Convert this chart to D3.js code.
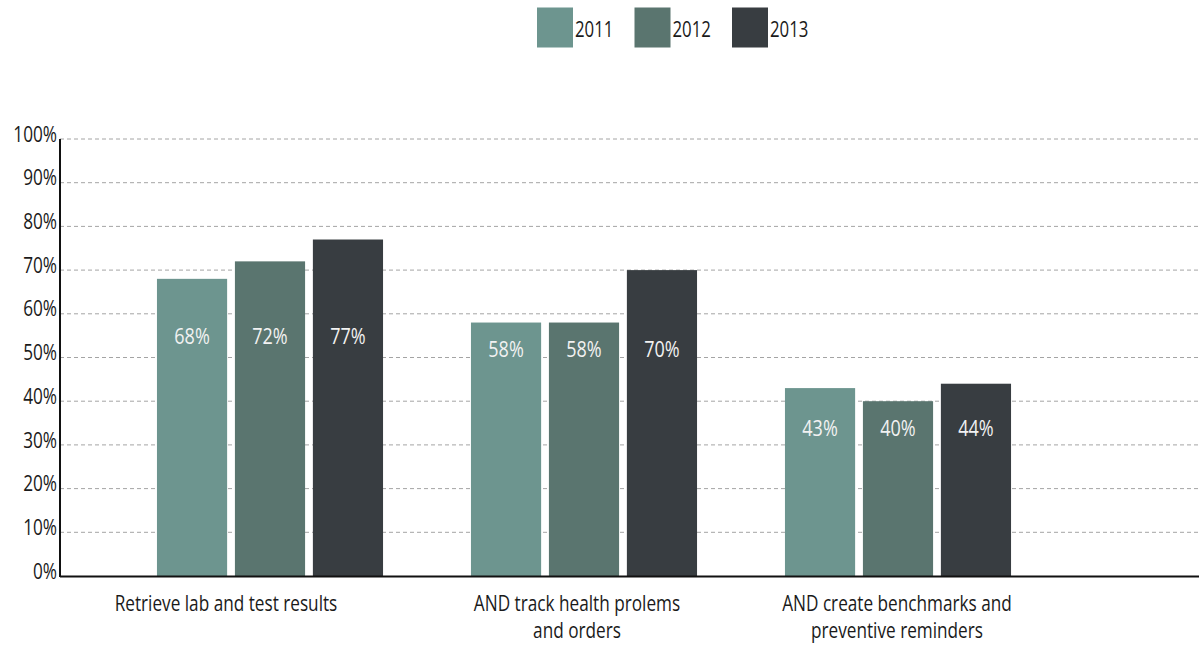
<!DOCTYPE html>
<html>
<head>
<meta charset="utf-8">
<script src="https://cdn.jsdelivr.net/npm/d3@7/dist/d3.min.js"></script>
<style>
  html, body { margin: 0; padding: 0; background: #ffffff; }
  svg { display: block; font-family: "Open Sans", "Noto Sans", sans-serif; }
</style>
</head>
<body>
<svg id="chart"></svg>
<script>
// ---- data ----
const categories = [
  "Retrieve lab and test results",
  "AND track health prolems and orders",
  "AND create benchmarks and preventive reminders"
];
const categoryLines = [
  ["Retrieve lab and test results"],
  ["AND track health prolems", "and orders"],
  ["AND create benchmarks and", "preventive reminders"]
];
const years = ["2011", "2012", "2013"];
const values2011 = [68, 58, 43];
const values2012 = [72, 58, 40];
const values2013 = [77, 70, 44];
const yTicks = [0, 10, 20, 30, 40, 50, 60, 70, 80, 90, 100];

const seriesValues = { "2011": values2011, "2012": values2012, "2013": values2013 };
const colors = { "2011": "#6d958f", "2012": "#5a756f", "2013": "#383d41" };

// ---- layout ----
const W = 1199, H = 647;
const SX = 0.8;                 // horizontal squeeze gives the narrow lettering
const u = px => px / SX;        // screen px -> inner units (x only)

const svg = d3.select("#chart").attr("width", W).attr("height", H);
const g = svg.append("g").attr("transform", `scale(${SX},1)`);

const axisX = 60, axisRight = 1199;
const y = d3.scaleLinear().domain([0, 100]).range([576, 139]);

const x0 = d3.scaleBand().domain(categories)
  .range([u(113), u(1055)]).paddingInner(0.28).paddingOuter(0.14);
const x1 = d3.scaleBand().domain(years)
  .range([0, x0.bandwidth()]).paddingInner(0.1);

// value labels sit at a common height inside each group (axis units)
const labelLevels = [53, 50, 32];
// category labels are shifted from the group centre
const labelShift = [-44, -7, -1];

// ---- gridlines ----
g.append("g").selectAll("line")
  .data(yTicks.filter(t => t > 0))
  .join("line")
  .attr("x1", u(axisX)).attr("x2", u(axisRight))
  .attr("y1", d => y(d)).attr("y2", d => y(d))
  .attr("stroke", "#9a9a9a").attr("stroke-width", 1)
  .attr("stroke-dasharray", `${u(4)} ${u(3)}`);

// ---- bars ----
const groups = g.append("g").selectAll("g")
  .data(categories)
  .join("g")
  .attr("transform", d => `translate(${x0(d)},0)`);

groups.selectAll("rect")
  .data((c, i) => years.map(yr => ({ yr, v: seriesValues[yr][i] })))
  .join("rect")
  .attr("x", d => x1(d.yr))
  .attr("width", x1.bandwidth())
  .attr("y", d => y(d.v))
  .attr("height", d => y(0) - y(d.v))
  .attr("fill", d => colors[d.yr]);

groups.selectAll("text")
  .data((c, i) => years.map(yr => ({ yr, v: seriesValues[yr][i], lvl: labelLevels[i] })))
  .join("text")
  .attr("x", d => x1(d.yr) + x1.bandwidth() / 2)
  .attr("y", d => y(d.lvl))
  .attr("text-anchor", "middle")
  .attr("font-size", 22.5)
  .attr("fill", "#f2f2f2")
  .text(d => d.v + "%");

// ---- y axis ----
const yAxis = d3.axisLeft(y).tickValues(yTicks)
  .tickFormat(d => d + "%").tickSize(0).tickPadding(u(3));
const yg = g.append("g").attr("transform", `translate(${u(axisX)},0)`).call(yAxis);
yg.select(".domain").remove();
yg.selectAll("text")
  .attr("font-size", 21.5)
  .attr("font-family", "'Open Sans', 'Noto Sans', sans-serif")
  .attr("fill", "#1a1a1a")
  .attr("dy", "0.1em");

g.append("line")
  .attr("x1", u(axisX)).attr("x2", u(axisX))
  .attr("y1", y(100)).attr("y2", y(0) + 1)
  .attr("stroke", "#111").attr("stroke-width", u(2));

g.append("line")
  .attr("x1", u(axisX)).attr("x2", u(axisRight))
  .attr("y1", y(0) + 0.5).attr("y2", y(0) + 0.5)
  .attr("stroke", "#111").attr("stroke-width", 2.2);

// ---- category labels ----
const catLabels = g.append("g").selectAll("text")
  .data(categories)
  .join("text")
  .attr("x", (d, i) => x0(d) + x0.bandwidth() / 2 + u(labelShift[i]))
  .attr("y", 611)
  .attr("text-anchor", "middle")
  .attr("font-size", 21.5)
  .attr("fill", "#1a1a1a");
catLabels.selectAll("tspan")
  .data((d, i) => categoryLines[i])
  .join("tspan")
  .attr("x", function () { return this.parentNode.getAttribute("x"); })
  .attr("dy", (d, j) => j === 0 ? 0 : 27)
  .text(d => d);

// ---- legend ----
const lx = d3.scaleBand().domain(years).range([u(537), u(537 + 3 * 97.5)]);
const legend = g.append("g").selectAll("g")
  .data(years)
  .join("g")
  .attr("transform", d => `translate(${lx(d)},0)`);
legend.append("rect")
  .attr("x", 0).attr("y", 7.5)
  .attr("width", u(36)).attr("height", 40)
  .attr("fill", d => colors[d]);
legend.append("text")
  .attr("x", u(38)).attr("y", 37)
  .attr("font-size", 21)
  .attr("fill", "#1a1a1a")
  .text(d => d);
</script>
</body>
</html>
